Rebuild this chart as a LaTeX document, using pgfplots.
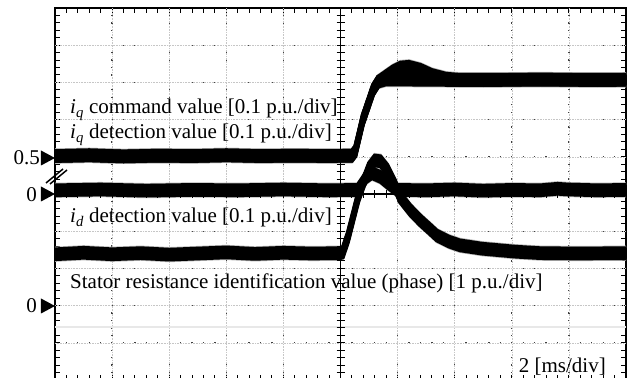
\documentclass[border=0pt]{standalone}
\usepackage{pgfplots}
\pgfplotsset{compat=1.18}
\usepackage{pgfplotstable}
\usepackage{fontspec}
\setmainfont{Liberation Serif}
\newcommand\lbl{\fontsize{21bp}{25bp}\selectfont}

\pgfplotstableread{
x y
0 6.02
0.6 6.04
1.2 6.01
1.8 6.03
2.4 6.02
3.0 6.04
3.6 6.02
4.2 6.03
4.8 6.02
5.20 6.03
5.26 6.15
5.39 6.99
5.57 7.80
5.66 8.02
5.80 8.08
6.5 8.07
7.5 8.06
8.5 8.08
9.5 8.06
10 8.07
}\trAcmd

\pgfplotstableread{
x y
0 6.02
0.6 6.04
1.2 6.01
1.8 6.03
2.4 6.02
3.0 6.04
3.6 6.02
4.2 6.03
4.8 6.02
5.20 6.03
5.26 6.15
5.39 6.99
5.57 7.80
5.66 8.02
5.78 8.15
5.92 8.30
6.05 8.40
6.20 8.42
6.40 8.34
6.60 8.20
6.85 8.10
7.10 8.07
8.5 8.07
10 8.07
}\trAdet

\pgfplotstableread{
x y
0 5.10
0.8 5.12
1.6 5.09
2.4 5.11
3.2 5.10
4.0 5.12
4.8 5.10
5.30 5.11
5.34 5.20
5.45 5.45
5.55 5.56
5.70 5.46
5.85 5.27
5.99 5.11
6.5 5.10
7.0 5.12
7.5 5.09
8.0 5.11
8.5 5.10
8.8 5.14
9.0 5.12
9.5 5.10
10 5.11
}\trB

\pgfplotstableread{
x y
0 3.38
0.5 3.42
1.0 3.38
1.5 3.41
2.0 3.37
2.5 3.40
3.0 3.43
3.5 3.39
4.0 3.42
4.5 3.40
5.0 3.41
5.04 3.43
5.13 3.84
5.22 4.38
5.31 4.92
5.40 5.30
5.50 5.70
5.60 5.90
5.70 5.88
5.82 5.65
5.95 5.25
6.04 4.92
6.22 4.57
6.39 4.30
6.57 4.05
6.69 3.88
6.90 3.72
7.09 3.62
7.48 3.53
8.06 3.45
8.5 3.41
9.2 3.40
10 3.41
}\trC

\pgfplotstableread{
x y
0 1.42
10 1.42
}\trR

\newcommand\bandline[3]{%
  \addplot[#3, forget plot] table[x=x, y expr=\thisrow{y}+#2] {#1};
}
\newcommand\halo[1]{%
  \bandline{#1}{-0.17}{gray!60, line width=2.5bp}
  \bandline{#1}{0.17}{gray!60, line width=2.5bp}
}
\newcommand\core[1]{%
  \bandline{#1}{-0.13}{black, line width=4bp}
  \bandline{#1}{-0.09}{black, line width=4bp}
  \bandline{#1}{-0.045}{black, line width=4bp}
  \bandline{#1}{0}{black, line width=4bp}
  \bandline{#1}{0.045}{black, line width=4bp}
  \bandline{#1}{0.09}{black, line width=4bp}
  \bandline{#1}{0.13}{black, line width=4bp}
}

\begin{document}
\begin{tikzpicture}
\begin{axis}[
  at={(0bp,0bp)}, anchor=south west,
  scale only axis, width=571bp, height=372bp,
  xmin=0, xmax=10, ymin=0, ymax=10,
  xtick={0,...,10}, ytick={0,...,10},
  minor x tick num=4, minor y tick num=4,
  xticklabels={}, yticklabels={},
  tick align=inside,
  major tick length=5bp, minor tick length=5bp,
  tick style={black, line width=1bp},
  grid=major,
  x grid style={black!75, line width=1.3bp, dash pattern=on 1.3bp off 6.14bp, dash phase=0.65bp},
  y grid style={black!75, line width=1.3bp, dash pattern=on 1.3bp off 10.12bp, dash phase=0.65bp},
  axis line style={line width=2bp},
]
\pgfplotsinvokeforeach{1,...,9}{
  \draw[gray!45, line width=0.5bp, dash pattern=on 0.8bp off 0.8bp] (axis cs:#1,0) -- (axis cs:#1,10);
  \draw[gray!45, line width=0.5bp, dash pattern=on 0.8bp off 0.8bp] (axis cs:0,#1) -- (axis cs:10,#1);
}
\addplot[gray!18, line width=1.5bp, forget plot] table[x=x,y=y] {\trR};
\halo{\trC}
\halo{\trB}
\halo{\trAcmd}
\halo{\trAdet}
\core{\trC}
\core{\trB}
\core{\trAcmd}
\core{\trAdet}
\end{axis}
\begin{axis}[
  at={(0bp,0bp)}, anchor=south west,
  scale only axis, width=571bp, height=372bp,
  xmin=-5, xmax=5, ymin=-5, ymax=5,
  axis lines=center, axis line style={-, line width=1.5bp},
  xtick={-5,...,5}, ytick={-5,...,5},
  minor x tick num=4, minor y tick num=4,
  xticklabels={}, yticklabels={},
  tick align=center,
  major tick length=8bp, minor tick length=8bp,
  tick style={black, line width=1bp},
]
\addplot[draw=none] coordinates {(0,0)};
\end{axis}
% scope markers
\fill (0bp,222bp) -- (-14bp,229.5bp) -- (-14bp,214.5bp) -- cycle;
\fill (0bp,186bp) -- (-14bp,193.5bp) -- (-14bp,178.5bp) -- cycle;
\fill (0bp,74bp) -- (-14bp,81.5bp) -- (-14bp,66.5bp) -- cycle;
\node[anchor=base east, inner sep=0, font=\lbl] at (-15bp,215bp) {0.5};
\node[anchor=base east, inner sep=0, font=\lbl] at (-18bp,178bp) {0};
\node[anchor=base east, inner sep=0, font=\lbl] at (-18bp,67bp) {0};
\draw[line width=1.5bp] (-9bp,197bp) -- (8bp,211bp);
\draw[line width=1.5bp] (-5bp,196bp) -- (12bp,210bp);
% labels
\node[anchor=base west, inner sep=0, font=\lbl] at (15bp,266bp) {\textit{i}\textsubscript{\textit{q}} command value [0.1 p.u./div]};
\node[anchor=base west, inner sep=0, font=\lbl] at (15bp,241bp) {\textit{i}\textsubscript{\textit{q}} detection value [0.1 p.u./div]};
\node[anchor=base west, inner sep=0, font=\lbl] at (15bp,157bp) {\textit{i}\textsubscript{\textit{d}} detection value [0.1 p.u./div]};
\node[anchor=base west, inner sep=0, font=\lbl] at (15bp,91bp) {Stator resistance identification value (phase) [1 p.u./div]};
\node[anchor=base east, inner sep=0, font=\lbl] at (551bp,8bp) {2 [ms/div]};
\pgfresetboundingbox
\path[use as bounding box] (-55bp,2bp) rectangle (580bp,380bp);
\end{tikzpicture}
\end{document}
